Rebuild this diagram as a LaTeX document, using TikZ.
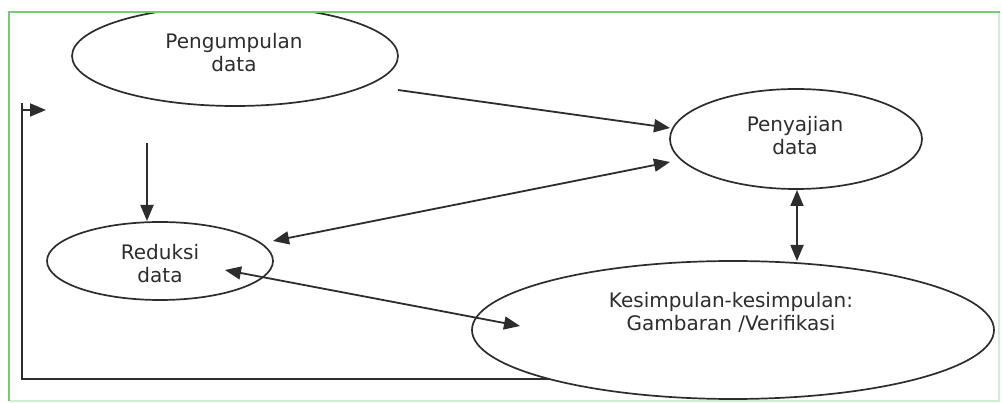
\documentclass[tikz,border=0pt]{standalone}
\usepackage{fontspec}
\setmainfont{DejaVu Sans}
\usetikzlibrary{arrows.meta,shapes.geometric,calc}
\definecolor{ink}{RGB}{45,45,45}
\definecolor{frame}{RGB}{115,205,115}
\definecolor{framefaint}{RGB}{205,240,205}
\tikzset{
  bubble/.style={ellipse, draw=ink, line width=1.7pt, inner sep=0pt, outer sep=0pt, fill=white},
  lbl/.style={text=ink, font=\fontsize{20}{23}\selectfont, align=center, inner sep=0pt},
  conn/.style={draw=ink, line width=1.8pt},
  tip/.style={-{Triangle[length=16pt,width=13pt]}},
  both/.style={{Triangle[length=16pt,width=13pt]}-{Triangle[length=16pt,width=13pt]}}
}
\begin{document}
\begin{tikzpicture}[x=1pt,y=-1pt]
\useasboundingbox (0,0) rectangle (1002,403);
\fill[white] (0,0) rectangle (1002,403);
% ellipses
\node[bubble, minimum width=326pt, minimum height=100pt] (peng) at (235,56) {};
\node[lbl] (pengt) at (234,53) {Pengumpulan\\data};
\node[bubble, minimum width=252pt, minimum height=100pt] (peny) at (796,139) {};
\node[lbl] (penyt) at (795,136) {Penyajian\\data};
\node[bubble, minimum width=226pt, minimum height=78pt] (red) at (160,261) {};
\node[lbl] (redt) at (160,264) {Reduksi\\data};
\node[bubble, minimum width=522pt, minimum height=138pt] (kes) at (733,330) {};
\node[lbl] (kest) at (731,312) {Kesimpulan-kesimpulan:\\Gambaran /Verifikasi};
% mask above top frame line
\fill[white] (0,0) rectangle (1002,12);
% frame
\draw[framefaint, line width=1.5pt] (999,12) -- (999,401) -- (9,401);
\draw[frame, line width=2pt] (9,401) -- (9,12) -- (1000,12);
% connectors
\draw[conn, tip] ([yshift=-34pt]peng.east) -- ([yshift=11pt]peny.west);
\draw[conn, tip] ([xshift=-88pt,yshift=-37pt]peng.south) -- ([xshift=-13pt,yshift=1pt]red.north);
\draw[conn, both] ([yshift=20pt]red.east) -- ([yshift=-23pt]peny.west);
\draw[conn, both] ([xshift=1pt,yshift=-1pt]peny.south) -- ([xshift=64pt]kes.north);
\draw[conn, both] ([xshift=65pt,yshift=-9pt]red.center) -- ([xshift=48pt,yshift=4pt]kes.west);
% feedback loop
\coordinate (fbtop) at (22,103);
\coordinate (fbin) at (46,110);
\draw[conn] (kes.195) -| (fbtop);
\draw[conn, tip] (fbtop |- fbin) -- (fbin);
\end{tikzpicture}
\end{document}
